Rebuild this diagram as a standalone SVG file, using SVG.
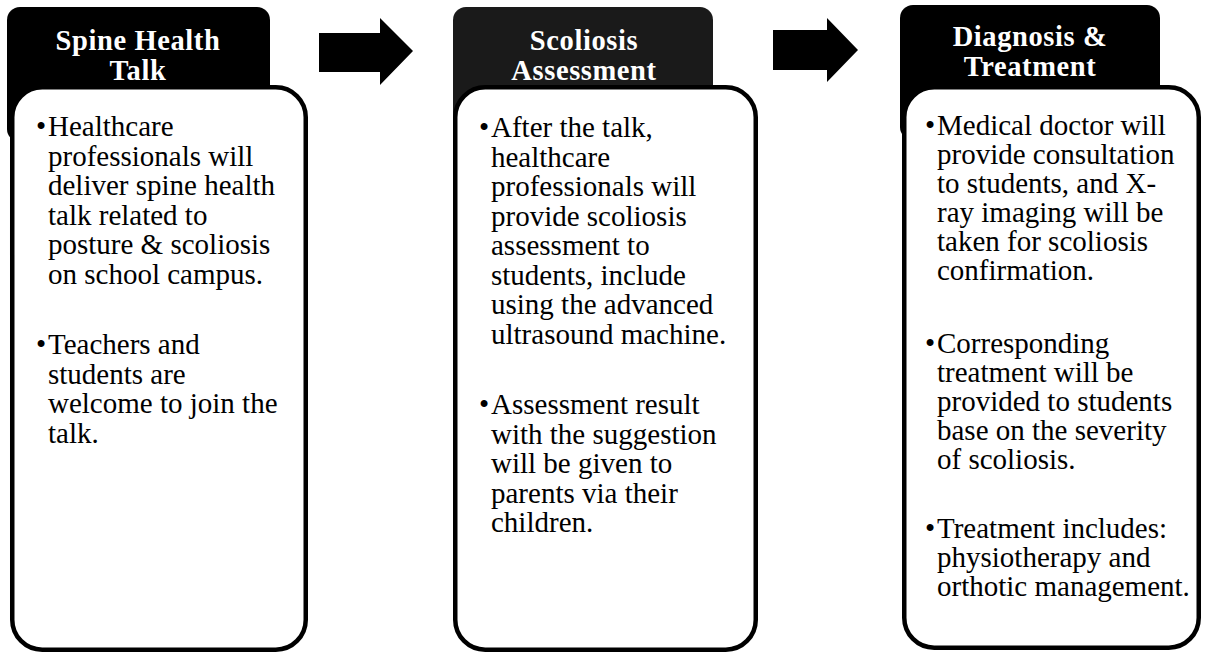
<svg xmlns="http://www.w3.org/2000/svg" width="1205" height="654" viewBox="0 0 1205 654">
<style>
.hdr{fill:#000;}
.hdr2{fill:#1a1a1a;}
.body{fill:#fff;stroke:#000;stroke-width:4.5;}
.ht{font-family:"Liberation Serif","Times New Roman",serif;font-weight:bold;font-size:28.5px;fill:#fff;text-anchor:middle;letter-spacing:0.6px;}
.bt{font-family:"Liberation Serif","Times New Roman",serif;font-size:29px;fill:#000;}
.arrow{fill:#000;}
</style>
<rect width="1205" height="654" fill="#fff"/>
<g id="connectors">
<polygon class="arrow" points="319,33 380,33 380,18 413,51 380,85 380,72 319,72"/>
<polygon class="arrow" points="773,30 827,30 827,18 858,50 827,82 827,70 773,70"/>
</g>
<g id="node1">
<rect class="hdr" x="7" y="7" width="263" height="135" rx="13"/>
<text class="ht" x="138" y="50">Spine Health</text>
<text class="ht" x="138" y="80">Talk</text>
<rect class="body" x="12.25" y="87.25" width="293.5" height="562.5" rx="30"/>
<text class="bt"><tspan x="36" y="136">•</tspan><tspan x="48" y="136">Healthcare</tspan><tspan x="48" y="165.5">professionals will</tspan><tspan x="48" y="195">deliver spine health</tspan><tspan x="48" y="224.5">talk related to</tspan><tspan x="48" y="254">posture &amp; scoliosis</tspan><tspan x="48" y="283.5">on school campus.</tspan><tspan x="36" y="354">•</tspan><tspan x="48" y="354">Teachers and</tspan><tspan x="48" y="383.5">students are</tspan><tspan x="48" y="413">welcome to join the</tspan><tspan x="48" y="442.5">talk.</tspan></text>
</g>
<g id="node2">
<rect class="hdr2" x="453" y="7" width="260" height="135" rx="13"/>
<text class="ht" x="584" y="50">Scoliosis</text>
<text class="ht" x="584" y="80">Assessment</text>
<rect class="body" x="455.25" y="87.25" width="300.5" height="562.5" rx="30"/>
<text class="bt"><tspan x="479" y="137">•</tspan><tspan x="491" y="137">After the talk,</tspan><tspan x="491" y="166.5">healthcare</tspan><tspan x="491" y="196">professionals will</tspan><tspan x="491" y="225.5">provide scoliosis</tspan><tspan x="491" y="255">assessment to</tspan><tspan x="491" y="284.5">students, include</tspan><tspan x="491" y="314">using the advanced</tspan><tspan x="491" y="343.5">ultrasound machine.</tspan><tspan x="479" y="414">•</tspan><tspan x="491" y="414">Assessment result</tspan><tspan x="491" y="443.5">with the suggestion</tspan><tspan x="491" y="473">will be given to</tspan><tspan x="491" y="502.5">parents via their</tspan><tspan x="491" y="532">children.</tspan></text>
</g>
<g id="node3">
<rect class="hdr" x="900" y="5" width="260" height="135" rx="13"/>
<text class="ht" x="1030" y="46">Diagnosis &amp;</text>
<text class="ht" x="1030" y="76">Treatment</text>
<rect class="body" x="904.25" y="87.25" width="294.5" height="560.5" rx="30"/>
<text class="bt"><tspan x="925" y="135">•</tspan><tspan x="937" y="135">Medical doctor will</tspan><tspan x="937" y="164">provide consultation</tspan><tspan x="937" y="193">to students, and X-</tspan><tspan x="937" y="222">ray imaging will be</tspan><tspan x="937" y="251">taken for scoliosis</tspan><tspan x="937" y="280">confirmation.</tspan><tspan x="925" y="353">•</tspan><tspan x="937" y="353">Corresponding</tspan><tspan x="937" y="382">treatment will be</tspan><tspan x="937" y="411">provided to students</tspan><tspan x="937" y="440">base on the severity</tspan><tspan x="937" y="469">of scoliosis.</tspan><tspan x="925" y="538">•</tspan><tspan x="937" y="538">Treatment includes:</tspan><tspan x="937" y="567">physiotherapy and</tspan><tspan x="937" y="596">orthotic management.</tspan></text>
</g>
</svg>
